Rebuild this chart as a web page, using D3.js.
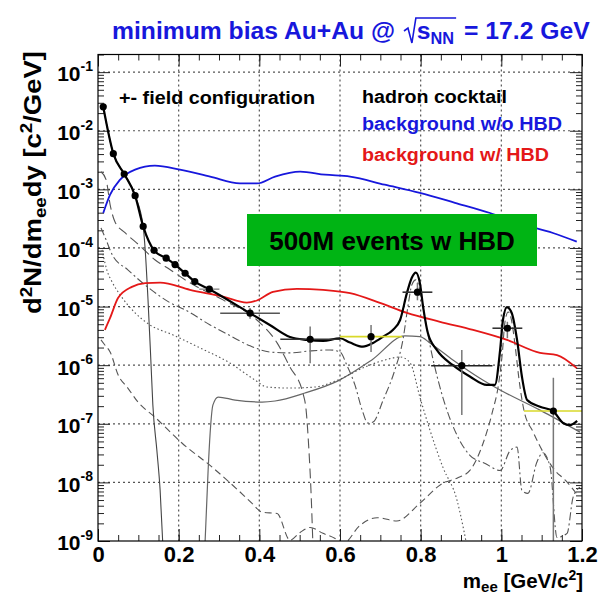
<!DOCTYPE html>
<html>
<head>
<meta charset="utf-8">
<script src="https://cdn.jsdelivr.net/npm/d3@7"></script>
<style>
  html, body { margin: 0; padding: 0; background: #fff; }
  svg { display: block; }
  text { font-family: "Liberation Sans", Arial, Helvetica, sans-serif; font-weight: bold; }
</style>
</head>
<body>
<svg id="chart" width="608" height="594"></svg>
<script>
// ---------------- data: dielectron mass spectrum, Au+Au 17.2 GeV ----------------
// measured points (mass in GeV/c^2, yield in c^2/GeV)
const pointMass     = [0.013, 0.038, 0.065, 0.092, 0.112, 0.139, 0.169, 0.191, 0.216, 0.240, 0.276, 0.377, 0.526, 0.677, 0.792, 0.902, 1.015, 1.129];
const pointYield    = [2.56e-2, 4.07e-3, 1.83e-3, 7.8e-4, 2.33e-4, 9.1e-5, 6.7e-5, 5.2e-5, 3.7e-5, 2.67e-5, 1.98e-5, 7.7e-6, 2.77e-6, 3.07e-6, 1.76e-5, 9.8e-7, 4.27e-6, 1.65e-7];
const pointMassErr  = [0, 0, 0, 0, 0, 0, 0, 0, 0, 0, 0.025, 0.074, 0.074, 0.077, 0.037, 0.076, 0.037, 0.073];
const pointYieldLo  = [0, 0, 0, 0, 0, 0, 0, 0, 0, 0, 0, 6.2e-6, 1.08e-6, 1.68e-6, 1.28e-5, 1.41e-7, 2.88e-6, 5e-10];
const pointYieldHi  = [0, 0, 0, 0, 0, 0, 0, 0, 0, 0, 0, 9.5e-6, 4.55e-6, 4.84e-6, 2.54e-5, 1.82e-6, 5.5e-6, 6.1e-7];
const pointBarColor = ["#444", "#444", "#444", "#444", "#444", "#444", "#444", "#444", "#444", "#444", "#999", "#555", "#333", "#d9d92a", "#333", "#222", "#333", "#d9d92a"];

// hadron cocktail sum
const cocktailSum = [[0.013,2.56e-2],[0.038,4.07e-3],[0.065,1.83e-3],[0.092,7.8e-4],[0.112,2.33e-4],[0.139,9.1e-5],[0.169,6.7e-5],[0.191,5.2e-5],[0.216,3.7e-5],[0.240,2.67e-5],[0.276,1.98e-5],[0.377,7.7e-6],[0.426,4.86e-6],[0.476,3.03e-6],[0.518,2.7e-6],[0.558,2.59e-6],[0.600,2.88e-6],[0.625,2.43e-6],[0.657,2.07e-6],[0.682,2.4e-6],[0.707,3.07e-6],[0.731,4.0e-6],[0.749,5.9e-6],[0.766,1.71e-5],[0.778,3.1e-5],[0.788,3.8e-5],[0.798,2.54e-5],[0.806,1.0e-5],[0.818,3.5e-6],[0.840,1.82e-6],[0.880,1.0e-6],[0.922,6.4e-7],[0.964,4.6e-7],[0.984,4.6e-7],[0.997,1.82e-6],[1.004,5.9e-6],[1.014,9.8e-6],[1.026,7.7e-6],[1.039,2.7e-6],[1.051,6.4e-7],[1.064,2.54e-7],[1.096,1.95e-7],[1.128,1.65e-7],[1.153,1.03e-7],[1.170,9.5e-8],[1.188,1.12e-7]];

// combinatorial background without / with the HBD
const bgNoHBD = [[0.013,3.95e-4],[0.030,8.1e-4],[0.055,1.47e-3],[0.092,2.17e-3],[0.141,2.54e-3],[0.203,2.17e-3],[0.278,1.65e-3],[0.352,1.26e-3],[0.394,1.26e-3],[0.439,1.65e-3],[0.501,2.01e-3],[0.563,1.78e-3],[0.625,1.65e-3],[0.711,1.2e-3],[0.798,8.7e-4],[0.885,5.9e-4],[0.972,3.95e-4],[1.046,2.6e-4],[1.128,1.8e-4],[1.187,1.28e-4]];
const bgWithHBD = [[0.017,4.0e-6],[0.030,6.4e-6],[0.050,1.41e-5],[0.084,2.17e-5],[0.117,2.51e-5],[0.154,2.57e-5],[0.228,1.93e-5],[0.310,1.48e-5],[0.369,1.17e-5],[0.394,1.27e-5],[0.434,1.78e-5],[0.493,2.01e-5],[0.558,1.93e-5],[0.625,1.70e-5],[0.699,1.16e-5],[0.766,7.8e-6],[0.848,5.5e-6],[0.930,4.0e-6],[1.014,2.7e-6],[1.096,1.62e-6],[1.138,1.49e-6],[1.187,8.9e-7]];

// individual cocktail sources
const pi0Source = [[0.013,2.56e-2],[0.038,4.07e-3],[0.065,1.83e-3],[0.092,7.8e-4],[0.112,2.33e-4],[0.117,9.3e-5],[0.124,1.3e-5],[0.131,1.23e-6],[0.136,2.1e-7],[0.146,3.5e-8],[0.154,7.4e-9],[0.161,8e-10]];
const etaSource = [[0.0074,2.0e-3],[0.020,1.47e-3],[0.030,5.5e-4],[0.042,2.8e-4],[0.067,1.82e-4],[0.104,1.09e-4],[0.141,6.3e-5],[0.179,4.24e-5],[0.228,2.54e-5],[0.310,1.3e-5],[0.394,5.9e-6],[0.444,2.4e-6],[0.476,9.3e-7],[0.508,3.35e-7],[0.516,1.71e-7],[0.523,3.5e-8],[0.528,7.3e-9],[0.533,8e-10]];
const omegaSource = [[0.0074,2.2e-4],[0.020,1.38e-4],[0.035,7.7e-5],[0.074,4.24e-5],[0.129,2.0e-5],[0.179,1.16e-5],[0.216,8.8e-6],[0.278,4.86e-6],[0.315,3.55e-6],[0.377,2.14e-6],[0.426,1.68e-6],[0.476,1.62e-6],[0.526,1.75e-6],[0.575,1.82e-6],[0.600,1.68e-6],[0.617,1.0e-6],[0.637,4.6e-7],[0.655,1.71e-7],[0.669,1.03e-7],[0.682,1.07e-7],[0.707,2.54e-7],[0.736,8.3e-7],[0.756,2.7e-6],[0.769,1.07e-5],[0.778,2.34e-5],[0.788,2.86e-5],[0.798,1.93e-5],[0.808,8.1e-6],[0.823,2.21e-6],[0.843,5.6e-7],[0.865,1.71e-7],[0.890,6.4e-8],[0.922,2.9e-8],[0.960,2.1e-8],[0.997,1.6e-8],[1.022,3.5e-8],[1.039,4.0e-8],[1.051,7.3e-9],[1.066,6.5e-9],[1.088,2.2e-8],[1.103,3.2e-8],[1.121,1.82e-8],[1.138,1.15e-9],[1.163,1.35e-9],[1.178,5.6e-9],[1.195,8.3e-9]];
const etaPrimeSource = [[0.0099,9.3e-5],[0.022,4.2e-5],[0.035,2.63e-5],[0.055,1.58e-5],[0.092,7.8e-6],[0.129,4.86e-6],[0.186,3.28e-6],[0.253,1.97e-6],[0.327,1.09e-6],[0.389,5.6e-7],[0.419,4.24e-7],[0.476,4.07e-7],[0.538,4.24e-7],[0.595,5.6e-7],[0.662,9.3e-7],[0.712,1.23e-6],[0.749,1.38e-6],[0.774,1.09e-6],[0.798,2.86e-7],[0.823,7.8e-8],[0.855,1.82e-8],[0.890,5.0e-9],[0.907,1.52e-9],[0.915,8e-10]];
const rhoSource = [[0.265,8e-10],[0.273,1.6e-8],[0.278,6.9e-8],[0.285,2.1e-7],[0.298,2.86e-7],[0.340,2.54e-7],[0.407,2.35e-7],[0.439,2.45e-7],[0.513,3.35e-7],[0.595,5.4e-7],[0.679,1.23e-6],[0.761,3.16e-6],[0.798,3.06e-6],[0.823,2.4e-6],[0.880,1.23e-6],[0.947,6.0e-7],[0.997,3.77e-7],[1.096,1.71e-7],[1.195,7.2e-8]];
const phiSource = [[0.0074,2.7e-6],[0.017,2.21e-6],[0.030,1.68e-6],[0.050,6.8e-7],[0.074,4.07e-7],[0.099,2.35e-7],[0.141,1.3e-7],[0.208,4.7e-8],[0.283,1.82e-8],[0.347,7.4e-9],[0.382,4.4e-9],[0.407,3.1e-9],[0.444,2.95e-9],[0.476,1.03e-9],[0.501,1.4e-9],[0.526,1.7e-9],[0.558,1.35e-9],[0.588,1.1e-9],[0.607,9e-10],[0.650,1.86e-9],[0.692,2.5e-9],[0.741,2.2e-9],[0.798,4.4e-9],[0.855,9.7e-9],[0.890,1.18e-8],[0.922,1.6e-8],[0.955,4.7e-8],[0.979,1.71e-7],[0.992,4.24e-7],[1.002,1.49e-6],[1.009,5.5e-6],[1.017,8.1e-6],[1.024,6.4e-6],[1.034,2.21e-6],[1.044,5.6e-7],[1.056,1.71e-7],[1.079,7.2e-8],[1.108,2.9e-8],[1.133,1.6e-8],[1.158,1.1e-8],[1.190,6.0e-9]];

// axis ticks and labels
const xTickValues = [0, 0.2, 0.4, 0.6, 0.8, 1.0, 1.2];
const xTickLabels = ["0", "0.2", "0.4", "0.6", "0.8", "1", "1.2"];
const yDecades    = [1e-9, 1e-8, 1e-7, 1e-6, 1e-5, 1e-4, 1e-3, 1e-2, 1e-1];
const yExponents  = ["-9", "-8", "-7", "-6", "-5", "-4", "-3", "-2", "-1"];

// ---------------- layout ----------------
const W = 608, H = 594;
const plot = { left: 98, right: 582, top: 54.5, bottom: 541 };
const colors = { blue: "#1717dc", red: "#e41818", green: "#00b414" };

const svg = d3.select("#chart");
svg.append("rect").attr("width", W).attr("height", H).attr("fill", "#fff");

const x = d3.scaleLinear().domain([0, 1.2]).range([plot.left, plot.right]);
const y = d3.scaleLog().domain([1e-9, 0.2]).range([plot.bottom, plot.top]);

svg.append("defs").append("clipPath").attr("id", "plotClip")
  .append("rect")
  .attr("x", plot.left).attr("y", plot.top)
  .attr("width", plot.right - plot.left).attr("height", plot.bottom - plot.top);

// dotted grid at the major ticks
const grid = svg.append("g").attr("stroke", "#555").attr("stroke-width", 1.2).attr("stroke-dasharray", "2,3");
grid.selectAll("line.gx").data(xTickValues.slice(1, -1)).join("line")
  .attr("x1", d => x(d)).attr("x2", d => x(d))
  .attr("y1", plot.top).attr("y2", plot.bottom);
grid.selectAll("line.gy").data(yDecades.slice(1)).join("line")
  .attr("x1", plot.left).attr("x2", plot.right)
  .attr("y1", d => y(d)).attr("y2", d => y(d));

// ---------------- axes (ROOT style, ticks inside the frame) ----------------
const xMinor = d3.range(0, 25).map(i => i * 0.05);
const yMinor = [];
yDecades.forEach(d => { for (let k = 2; k <= 9; k++) if (k * d <= 0.2) yMinor.push(k * d); });

function styleAxis(g) {
  g.select(".domain").remove();
  g.attr("color", "#222").attr("font-family", null);
  g.selectAll(".tick line").attr("stroke-width", 1);
}

// bottom
const gxb = svg.append("g").attr("transform", `translate(0,${plot.bottom})`)
  .call(d3.axisBottom(x).tickValues(xTickValues).tickSize(-12).tickPadding(5)
    .tickFormat((d, i) => xTickLabels[i]));
styleAxis(gxb);
gxb.attr("font-size", 22).selectAll("text").attr("fill", "#000");
svg.append("g").attr("transform", `translate(0,${plot.bottom})`)
  .call(d3.axisBottom(x).tickValues(xMinor).tickSize(-6).tickFormat(""))
  .call(styleAxis);
// top
svg.append("g").attr("transform", `translate(0,${plot.top})`)
  .call(d3.axisTop(x).tickValues(xTickValues).tickSize(-12).tickFormat(""))
  .call(styleAxis);
svg.append("g").attr("transform", `translate(0,${plot.top})`)
  .call(d3.axisTop(x).tickValues(xMinor).tickSize(-6).tickFormat(""))
  .call(styleAxis);
// left
const gyl = svg.append("g").attr("transform", `translate(${plot.left},0)`)
  .call(d3.axisLeft(y).tickValues(yDecades).tickSize(-12).tickPadding(5).tickFormat(() => ""));
styleAxis(gyl);
gyl.attr("font-size", 21);
gyl.selectAll(".tick text").each(function (d, i) {
  const t = d3.select(this).attr("fill", "#000").attr("dy", "0.42em");
  t.append("tspan").text("10");
  t.append("tspan").attr("font-size", 14).attr("dy", "-0.75em").text(yExponents[i]);
});
svg.append("g").attr("transform", `translate(${plot.left},0)`)
  .call(d3.axisLeft(y).tickValues(yMinor).tickSize(-6).tickFormat(""))
  .call(styleAxis);
// right
svg.append("g").attr("transform", `translate(${plot.right},0)`)
  .call(d3.axisRight(y).tickValues(yDecades).tickSize(-12).tickFormat(""))
  .call(styleAxis);
svg.append("g").attr("transform", `translate(${plot.right},0)`)
  .call(d3.axisRight(y).tickValues(yMinor).tickSize(-6).tickFormat(""))
  .call(styleAxis);

// ---------------- curves ----------------
const line = d3.line().x(d => x(d[0])).y(d => y(d[1])).curve(d3.curveMonotoneX);
const curves = svg.append("g").attr("clip-path", "url(#plotClip)").attr("fill", "none");

const sources = [
  { data: phiSource,      stroke: "#555", width: 1.1, dash: "7,4" },
  { data: rhoSource,      stroke: "#666", width: 1.2, dash: null },
  { data: etaPrimeSource, stroke: "#555", width: 1.1, dash: "1.5,2.5" },
  { data: omegaSource,    stroke: "#555", width: 1.1, dash: "8,3,2,3" },
  { data: etaSource,      stroke: "#555", width: 1.1, dash: "10,5" },
  { data: pi0Source,      stroke: "#444", width: 1.1, dash: null }
];
sources.forEach(s => {
  curves.append("path").attr("d", line(s.data))
    .attr("stroke", s.stroke).attr("stroke-width", s.width)
    .attr("stroke-dasharray", s.dash);
});

curves.append("path").attr("d", line(bgNoHBD)).attr("stroke", colors.blue).attr("stroke-width", 1.8);
curves.append("path").attr("d", line(bgWithHBD)).attr("stroke", colors.red).attr("stroke-width", 1.8);

// error bars
const pts = pointMass.map((m, i) => ({
  m, v: pointYield[i], dm: pointMassErr[i], lo: pointYieldLo[i], hi: pointYieldHi[i], c: pointBarColor[i]
}));
const bars = svg.append("g").attr("clip-path", "url(#plotClip)");
bars.selectAll("line.h").data(pts.filter(p => p.dm > 0)).join("line")
  .attr("x1", p => x(p.m - p.dm)).attr("x2", p => x(p.m + p.dm))
  .attr("y1", p => y(p.v)).attr("y2", p => y(p.v))
  .attr("stroke", p => p.c).attr("stroke-width", 1.6);

curves.append("path").attr("d", line(cocktailSum)).attr("stroke", "#000").attr("stroke-width", 2.2);

bars.selectAll("line.v").data(pts.filter(p => p.hi > 0)).join("line")
  .attr("x1", p => x(p.m)).attr("x2", p => x(p.m))
  .attr("y1", p => y(p.lo)).attr("y2", p => y(p.hi))
  .attr("stroke", "#777").attr("stroke-width", 1.5);
bars.selectAll("circle").data(pts).join("circle")
  .attr("cx", p => x(p.m)).attr("cy", p => y(p.v)).attr("r", 3.6).attr("fill", "#000");

// frame
svg.append("rect")
  .attr("x", plot.left).attr("y", plot.top)
  .attr("width", plot.right - plot.left).attr("height", plot.bottom - plot.top)
  .attr("fill", "none").attr("stroke", "#000").attr("stroke-width", 1.2);

// ---------------- texts ----------------
// title with square-root symbol; laid out piecewise, then sized to span 112..590
const titleLeft = 112, titleRight = 590;
function drawTitle(fs) {
  const g = svg.append("g").attr("fill", colors.blue).attr("font-size", fs);
  const k = fs / 25;
  const t1 = g.append("text").attr("x", titleLeft).attr("y", 39).text("minimum bias Au+Au @");
  const cx = titleLeft + t1.node().getComputedTextLength() + 9 * k;
  const t2 = g.append("text").attr("x", cx + 13 * k).attr("y", 39);
  t2.append("tspan").text("s");
  t2.append("tspan").attr("font-size", fs * 0.66).attr("dy", 5).text("NN");
  const barEnd = cx + 13 * k + t2.node().getComputedTextLength() + 2;
  g.append("path")
    .attr("d", `M${cx},31 L${cx + 4 * k},28 L${cx + 8 * k},43 L${cx + 12 * k},18 L${barEnd},18`)
    .attr("fill", "none").attr("stroke", colors.blue).attr("stroke-width", 1.6);
  const t3 = g.append("text").attr("x", barEnd + 8 * k).attr("y", 39).text("= 17.2 GeV");
  return { g, end: barEnd + 8 * k + t3.node().getComputedTextLength() };
}
const trial = drawTitle(25);
const fitSize = 25 * (titleRight - titleLeft) / (trial.end - titleLeft);
trial.g.remove();
drawTitle(fitSize);

// y-axis title
const yt = svg.append("text")
  .attr("transform", "translate(41,51) rotate(-90)")
  .attr("text-anchor", "end").attr("font-size", 23.5).attr("fill", "#000")
  .attr("textLength", 263).attr("lengthAdjust", "spacingAndGlyphs");
yt.append("tspan").text("d");
yt.append("tspan").attr("font-size", 16).attr("dy", -9).text("2");
yt.append("tspan").attr("dy", 9).text("N/dm");
yt.append("tspan").attr("font-size", 16).attr("dy", 5).text("ee");
yt.append("tspan").attr("dy", -5).text("dy [c");
yt.append("tspan").attr("font-size", 16).attr("dy", -9).text("2");
yt.append("tspan").attr("dy", 9).text("/GeV]");

// x-axis title
const xt = svg.append("text")
  .attr("x", 583).attr("y", 588).attr("text-anchor", "end").attr("font-size", 20.5).attr("fill", "#000");
xt.append("tspan").text("m");
xt.append("tspan").attr("font-size", 15).attr("dy", 4).text("ee");
xt.append("tspan").attr("dy", -4).text(" [GeV/c");
xt.append("tspan").attr("font-size", 14).attr("dy", -8).text("2");
xt.append("tspan").attr("dy", 8).text("]");

// legend texts
const legend = [
  { text: "+- field configuration", x: 119, y: 103.5, color: "#000",      len: 196 },
  { text: "hadron cocktail",        x: 362, y: 103,   color: "#000",      len: 145 },
  { text: "background w/o HBD",     x: 362, y: 130,   color: colors.blue, len: 200 },
  { text: "background w/ HBD",      x: 362, y: 161,   color: colors.red,  len: 187 }
];
svg.append("g").attr("font-size", 18).selectAll("text").data(legend).join("text")
  .attr("x", d => d.x).attr("y", d => d.y).attr("fill", d => d.color)
  .attr("textLength", d => d.len).attr("lengthAdjust", "spacingAndGlyphs")
  .text(d => d.text);

// event-count box
svg.append("rect").attr("x", 247).attr("y", 214).attr("width", 290).attr("height", 52).attr("fill", colors.green);
svg.append("text").attr("x", 392).attr("y", 250).attr("text-anchor", "middle")
  .attr("font-size", 26).attr("fill", "#000").text("500M events w HBD");
</script>
</body>
</html>
